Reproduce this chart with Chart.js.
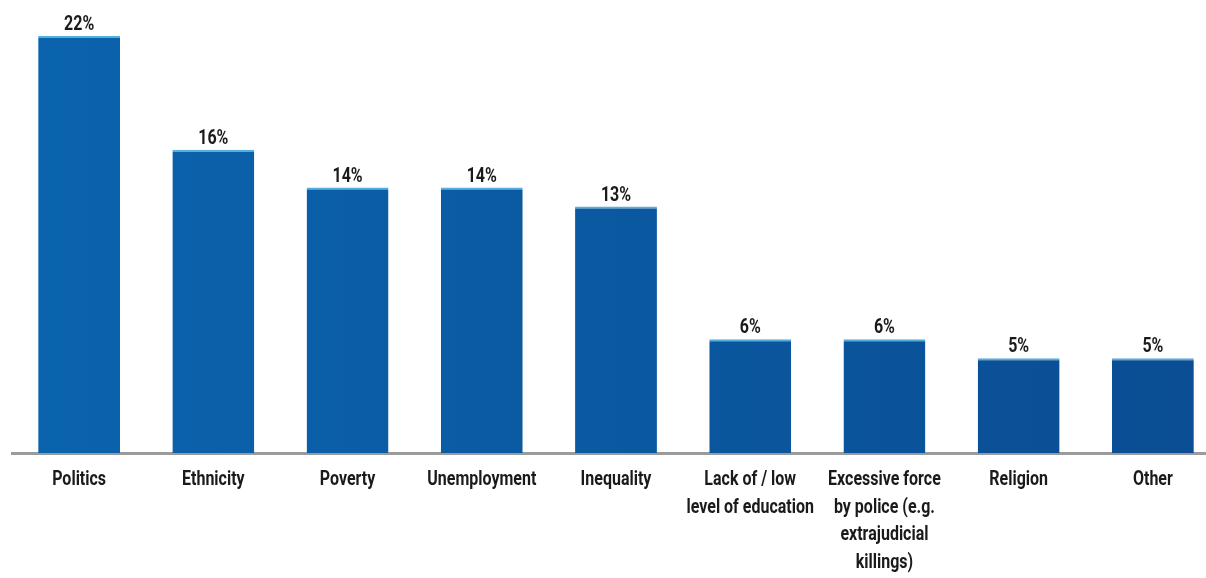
<!DOCTYPE html>
<html>
<head>
<meta charset="utf-8">
<script src="https://cdn.jsdelivr.net/npm/chart.js@4"></script>
<style>
    html, body { margin: 0; padding: 0; background: #fff; overflow: hidden; }
    #wrap { width: 1220px; height: 578px; }
</style>
</head>
<body>
<div id="wrap"><canvas id="plot"></canvas></div>
<script>
const categories = [
    'Politics',
    'Ethnicity',
    'Poverty',
    'Unemployment',
    'Inequality',
    ['Lack of / low', 'level of education'],
    ['Excessive force', 'by police (e.g.', 'extrajudicial', 'killings)'],
    'Religion',
    'Other'
];
const shares = [22, 16, 14, 14, 13, 6, 6, 5, 5];

// condensed look: Roboto bold squeezed horizontally
const FONT = "bold 20px Roboto, 'DejaVu Sans', sans-serif";
const SQUEEZE = 0.8;
const TEXT_COLOR = '#1a1a1a';
const LINE_H = 27.5;

function squeezedText(ctx, text, x, y) {
    ctx.save();
    ctx.translate(x, y);
    ctx.scale(SQUEEZE, 1);
    ctx.fillText(text, 0, 0);
    ctx.restore();
}

// value labels above each bar and category labels under the axis
const textLayer = {
    id: 'textLayer',
    afterDraw(chart) {
        const ctx = chart.ctx;
        const meta = chart.getDatasetMeta(0);
        const xScale = chart.scales.x;
        const bottom = chart.chartArea.bottom;
        ctx.save();
        ctx.font = FONT;
        ctx.fillStyle = TEXT_COLOR;
        ctx.textAlign = 'center';

        ctx.textBaseline = 'alphabetic';
        meta.data.forEach((bar, i) => {
            squeezedText(ctx, shares[i] + '%', bar.x, bar.y - 6);
        });

        ctx.textBaseline = 'middle';
        categories.forEach((label, i) => {
            const lines = Array.isArray(label) ? label : [label];
            const x = xScale.getPixelForValue(i);
            lines.forEach((line, j) => {
                squeezedText(ctx, line, x, bottom + 27 + j * LINE_H);
            });
        });
        ctx.restore();
    }
};

function barFill(context) {
    const area = context.chart.chartArea;
    if (!area) return '#0b5aa2';
    const g = context.chart.ctx.createLinearGradient(area.left, 0, area.right, 0);
    g.addColorStop(0, '#0b64ae');
    g.addColorStop(1, '#0a4d93');
    return g;
}

function drawPlot() {
    const ctx = document.getElementById('plot');

    new Chart(ctx, {
        type: 'bar',
        data: {
            labels: categories,
            datasets: [{
                data: shares,
                backgroundColor: barFill,
                borderColor: '#55aee0',
                borderWidth: { top: 2, left: 0, right: 0, bottom: 0 },
                borderSkipped: false,
                categoryPercentage: 1,
                barPercentage: 0.61
            }]
        },
        options: {
            responsive: true,
            maintainAspectRatio: false,
            animation: false,
            layout: { padding: { left: 12, right: 0, top: 17, bottom: 125 } },
            scales: {
                x: {
                    grid: { display: false, drawTicks: false },
                    border: { display: true, color: '#9b9b9b', width: 3 },
                    ticks: { display: false }
                },
                y: {
                    display: false,
                    min: 0,
                    max: 23
                }
            },
            plugins: {
                legend: { display: false },
                tooltip: { enabled: false }
            }
        },
        plugins: [textLayer]
    });
}

drawPlot();
</script>
</body>
</html>
